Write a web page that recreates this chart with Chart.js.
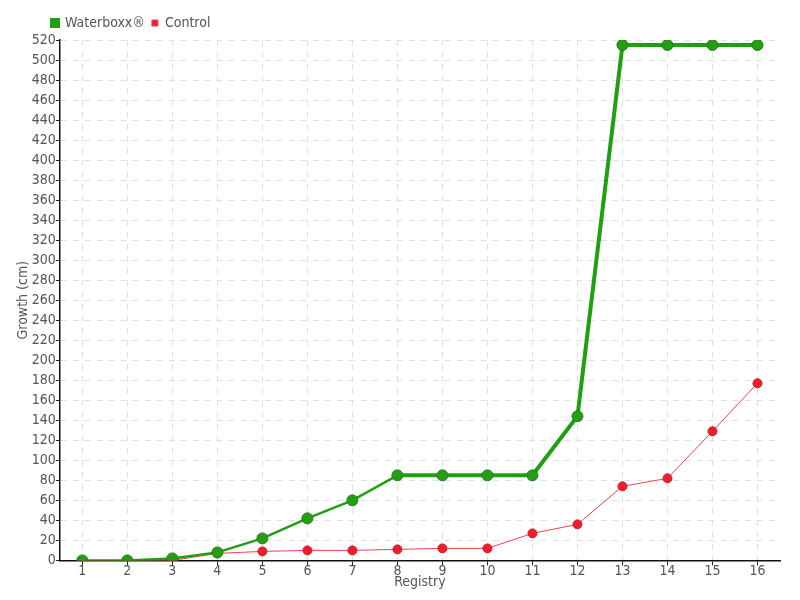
<!DOCTYPE html>
<html>
<head>
<meta charset="utf-8">
<script src="https://cdn.jsdelivr.net/npm/chart.js@4"></script>
<style>
  html, body { margin: 0; padding: 0; background: #fff; }
  #wrap { width: 800px; height: 600px; }
</style>
</head>
<body>
<div id="wrap"><canvas id="growthChart" width="800" height="600"></canvas></div>
<script>
// registrations (x axis)
const registry = ['1', '2', '3', '4', '5', '6', '7', '8', '9', '10', '11', '12', '13', '14', '15', '16'];
// growth in cm
const waterboxx = [0, 0, 2, 8, 22, 42, 60, 85, 85, 85, 85, 144, 515, 515, 515, 515];
const control = [0, 0, 0, 7, 9, 10, 10, 11, 12, 12, 27, 36, 74, 82, 129, 177];
const yMax = 520;
const yStep = 20;

const fontFamily = '"DejaVu Sans Condensed", "Liberation Sans", sans-serif';
const textColor = '#555';

// sposta la legenda a destra, come nell'originale
const legendShift = {
    id: 'legendShift',
    afterLayout(chart) {
        chart.legend.left += 40;
        chart.legend.right += 40;
    }
};

const ctx = document.getElementById('growthChart').getContext('2d');
new Chart(ctx, {
    type: 'line',
    data: {
        labels: registry,
        datasets: [{
            label: 'Waterboxx®',
            data: waterboxx,
            borderColor: '#1fa011',
            backgroundColor: '#1fa011',
            pointBackgroundColor: '#22a012',
            pointBorderColor: '#2a7a22',
            pointBorderWidth: 1,
            pointRadius: 5.5,
            borderWidth: 4,
            segment: {
                // the early part of the line looks thinner
                borderWidth: c => c.p0DataIndex < 7 ? 2.5 : 4
            },
            tension: 0
        }, {
            label: 'Control',
            data: control,
            borderColor: '#f0404f',
            backgroundColor: '#ee1c2e',
            pointBackgroundColor: '#ee1c2e',
            pointBorderColor: '#c8202c',
            pointBorderWidth: 1,
            pointRadius: 4.5,
            borderWidth: 1,
            tension: 0
        }]
    },
    options: {
        responsive: false,
        animation: false,
        layout: { padding: { left: 5, right: 20, top: 9, bottom: 9 } },
        plugins: {
            legend: {
                display: true,
                position: 'top',
                align: 'start',
                labels: {
                    boxWidth: 6,
                    boxHeight: 6,
                    padding: 7,
                    color: textColor,
                    font: { family: fontFamily, size: 14 }
                }
            },
            tooltip: { enabled: false }
        },
        scales: {
            x: {
                offset: true,
                grid: {
                    color: '#e0e0e0',
                    tickColor: '#222',
                    tickLength: 5,
                    lineWidth: 1
                },
                border: { color: '#111', width: 1.5, dash: [6, 6] },
                ticks: { color: textColor, font: { family: fontFamily, size: 14 }, padding: -2, autoSkip: false, maxRotation: 0 },
                title: {
                    display: true,
                    text: 'Registry',
                    color: textColor,
                    font: { family: fontFamily, size: 14 },
                    padding: { top: -4, bottom: 0 }
                }
            },
            y: {
                min: 0,
                max: yMax,
                grid: {
                    color: '#e0e0e0',
                    tickColor: '#222',
                    tickLength: 4
                },
                border: { color: '#111', width: 1.5, dash: [6, 6] },
                ticks: {
                    stepSize: yStep,
                    autoSkip: false,
                    color: textColor,
                    font: { family: fontFamily, size: 14 },
                    padding: 0
                },
                title: {
                    display: true,
                    text: 'Growth (cm)',
                    color: textColor,
                    font: { family: fontFamily, size: 14 },
                    padding: { top: 10, bottom: 0 }
                }
            }
        }
    },
    plugins: [legendShift]
});
</script>
</body>
</html>
